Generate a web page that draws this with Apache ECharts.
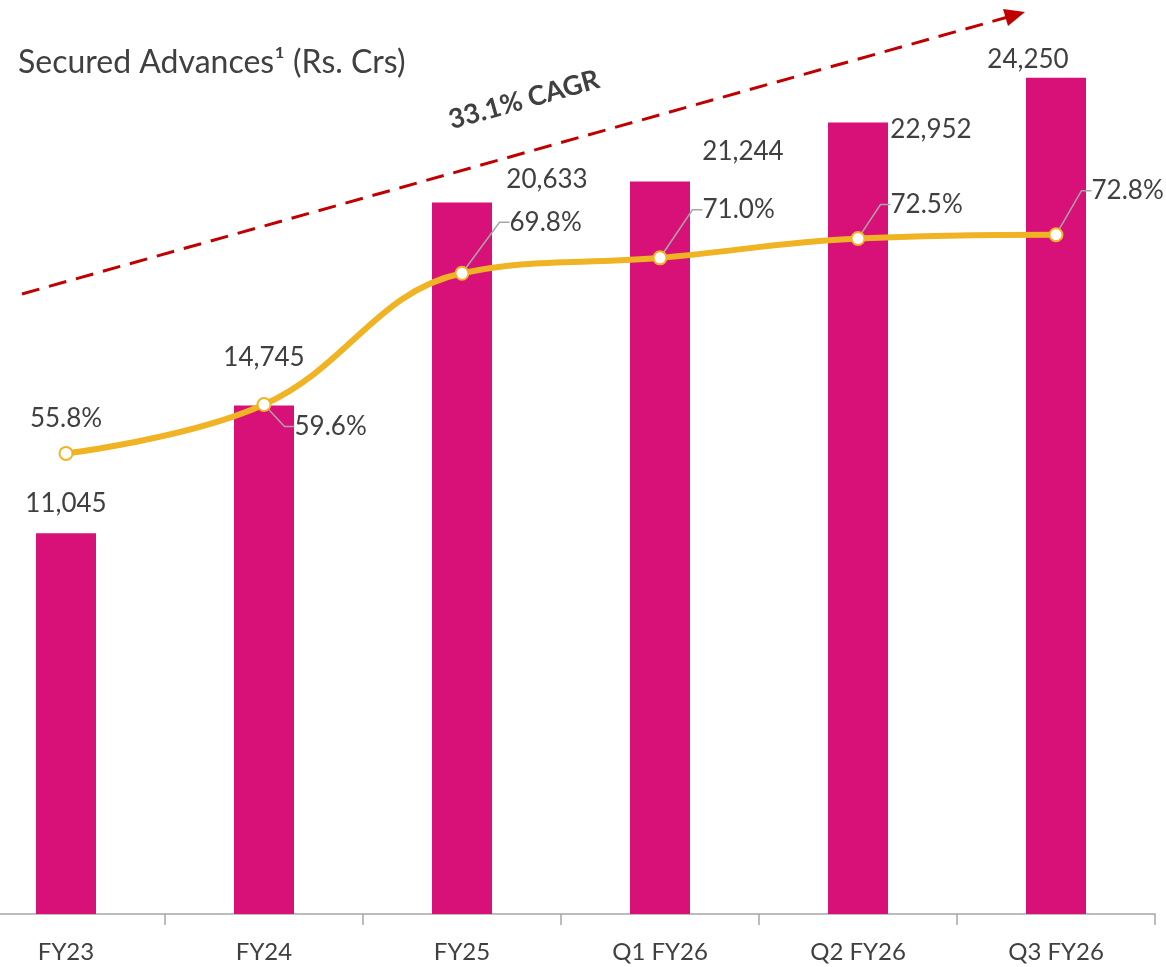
<!DOCTYPE html>
<html>
<head>
<meta charset="utf-8">
<script src="https://cdn.jsdelivr.net/npm/echarts@6/dist/echarts.min.js"></script>
<style>
  html, body { margin: 0; padding: 0; background: #fff; }
  #chart { width: 1166px; height: 967px; }
</style>
</head>
<body>
<div id="chart"></div>
<script>
var categories = ['FY23', 'FY24', 'FY25', 'Q1 FY26', 'Q2 FY26', 'Q3 FY26'];
var securedAdvances = [11045, 14745, 20633, 21244, 22952, 24250];
var securedShare = [55.8, 59.6, 69.8, 71.0, 72.5, 72.8];
var titleText = 'Secured Advances\u00b9 (Rs. Crs)';
var cagrText = '33.1% CAGR';

// label nudges (pixels)
var barLabelShift = [[0, -12], [0, -30], [85, -5], [83, -12], [73, 25], [-28, 0]];
var pctLabelShift = [[0, 0], [18, 22], [35, -51], [30, -48], [20, -34], [23, -44]];

var font = 'Lato, "Open Sans", sans-serif';
var textColor = '#404040';

var myChart = echarts.init(document.getElementById('chart'));
option = {
    animation: false,
    title: {
        text: titleText,
        left: 13,
        top: 42,
        textStyle: { fontFamily: font, fontSize: 32, fontWeight: 'normal', color: textColor }
    },
    grid: { left: -33, right: 11, top: 52, bottom: 53, containLabel: false, outerBoundsMode: 'none' },
    xAxis: {
        type: 'category',
        data: categories,
        axisLine: { lineStyle: { color: '#a6a6a6', width: 1.5 } },
        axisTick: { show: true, length: 11, lineStyle: { color: '#a6a6a6', width: 1.5 } },
        axisLabel: { margin: 26, fontFamily: font, fontSize: 24, color: textColor }
    },
    yAxis: [
        { type: 'value', min: 0, max: 25000, show: false, splitLine: { show: false } },
        { type: 'value', min: 20, max: 87, show: false, splitLine: { show: false } }
    ],
    series: [
        {
            name: 'Secured Advances',
            type: 'bar',
            data: securedAdvances,
            barWidth: 60,
            itemStyle: { color: '#d81179' },
            label: {
                show: true,
                position: 'top',
                distance: 5,
                fontFamily: font,
                fontSize: 26,
                color: textColor,
                formatter: function (p) { return p.value.toLocaleString('en-US'); }
            },
            labelLayout: function (p) {
                var s = barLabelShift[p.dataIndex];
                return { dx: s[0], dy: s[1] };
            },
            z: 2
        },
        {
            name: 'Secured share',
            type: 'line',
            yAxisIndex: 1,
            data: securedShare.map(function (v, i) {
                return i === 0 ? { value: v, label: { position: 'top', distance: 14 }, labelLine: { show: false } } : v;
            }),
            smooth: 0.4,
            symbol: 'circle',
            symbolSize: 13,
            lineStyle: { color: '#f0b323', width: 6 },
            itemStyle: { color: '#ffffff', borderColor: '#f0b323', borderWidth: 2 },
            label: {
                show: true,
                position: 'right',
                distance: 5,
                fontFamily: font,
                fontSize: 26,
                color: textColor,
                formatter: function (p) {
                    return p.value.toFixed(1) + '%';
                }
            },
            labelLine: { show: true, length2: 10, lineStyle: { color: '#a6a6a6', width: 1.5 } },
            labelLayout: function (p) {
                var s = pctLabelShift[p.dataIndex];
                return { dx: s[0], dy: s[1] };
            },
            z: 5
        }
    ],
    graphic: [
        {
            type: 'line',
            shape: { x1: 22, y1: 294, x2: 1008, y2: 17 },
            style: { stroke: '#c00000', lineWidth: 3, lineDash: [18, 10] },
            z: 10
        },
        {
            type: 'polygon',
            shape: { points: [[1025, 12], [1008, 26], [1003, 9]] },
            style: { fill: '#c00000' },
            z: 10
        },
        {
            type: 'text',
            x: 524,
            y: 100,
            rotation: 0.274,
            style: {
                text: cagrText,
                fontFamily: font,
                fontSize: 27,
                fontWeight: 'bold',
                fill: textColor,
                align: 'center',
                verticalAlign: 'middle'
            },
            z: 10
        }
    ]
};
myChart.setOption(option);
</script>
</body>
</html>
